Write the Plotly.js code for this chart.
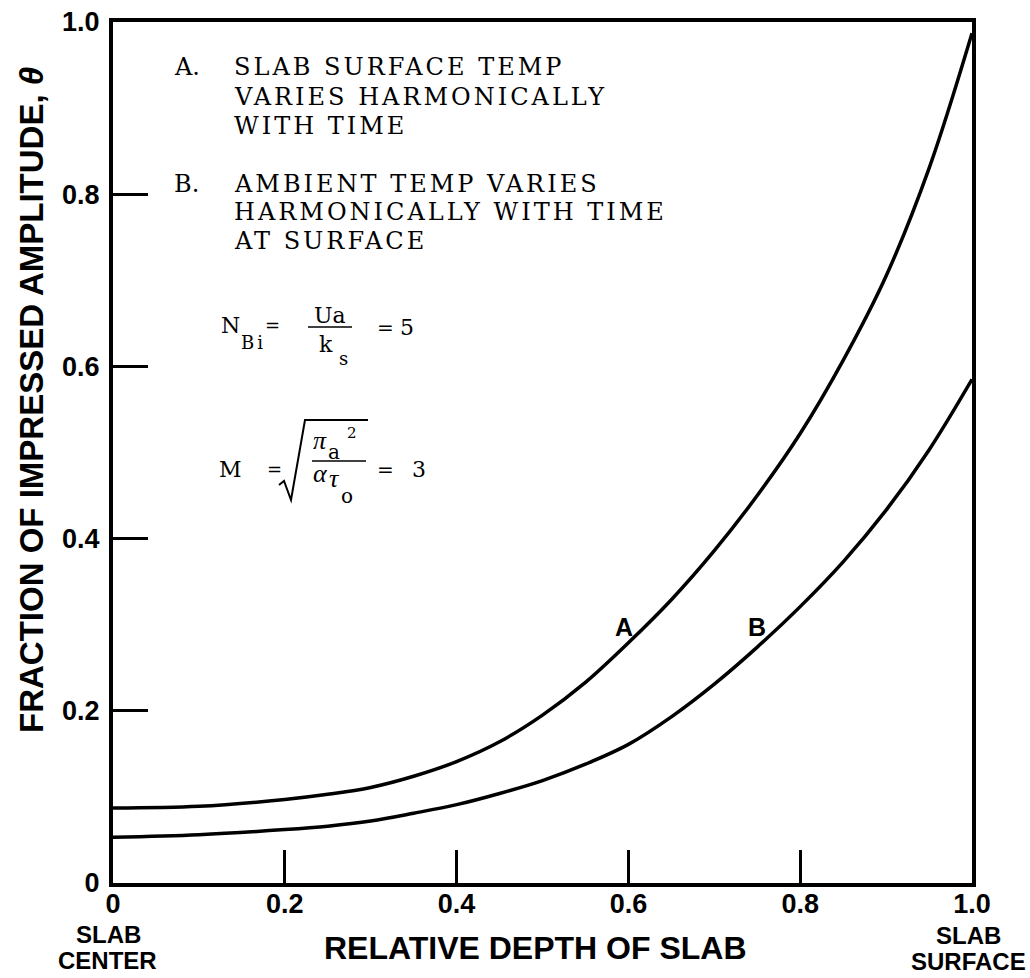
<!DOCTYPE html>
<html>
<head>
<meta charset="utf-8">
<script src="https://cdn.plot.ly/plotly-3.0.1.min.js"></script>
<style>html,body{margin:0;padding:0;background:#fff;}</style>
</head>
<body>
<div id="chart" style="width:1030px;height:978px;"></div>
<script>
// ---- data ----
const depthA = [0, 0.1, 0.2, 0.25, 0.3, 0.35, 0.4, 0.45, 0.5, 0.55, 0.6, 0.65, 0.7, 0.75, 0.8, 0.85, 0.9, 0.95, 1.0];
const ampA   = [0.087, 0.089, 0.097, 0.103, 0.111, 0.124, 0.141, 0.164, 0.195, 0.233, 0.279, 0.329, 0.386, 0.450, 0.522, 0.607, 0.705, 0.830, 0.987];
const depthB = [0, 0.1, 0.2, 0.25, 0.3, 0.35, 0.4, 0.45, 0.5, 0.55, 0.6, 0.65, 0.7, 0.75, 0.8, 0.85, 0.9, 0.95, 1.0];
const ampB   = [0.053, 0.056, 0.062, 0.066, 0.072, 0.081, 0.091, 0.104, 0.119, 0.138, 0.161, 0.193, 0.231, 0.274, 0.321, 0.373, 0.433, 0.503, 0.585];
const xTickVals = [0, 0.2, 0.4, 0.6, 0.8, 1.0];
const xTickText = ['0', '0.2', '0.4', '0.6', '0.8', '1.0'];
const yTickVals = [0, 0.2, 0.4, 0.6, 0.8, 1.0];
const yTickText = ['0', '0.2', '0.4', '0.6', '0.8', '1.0'];
const curveLabels = ['A', 'B'];
const noteMarks = ['A.', 'B.'];
const noteLines = [
  'SLAB SURFACE TEMP',
  'VARIES HARMONICALLY',
  'WITH TIME',
  'AMBIENT TEMP VARIES',
  'HARMONICALLY WITH TIME',
  'AT SURFACE'
];

// ---- layout geometry (pixels) ----
const W = 1030, H = 978;
const L = 113, R = 972, T = 22, B = 883;
const px = x => (x - L) / (R - L);
const py = y => (B - y) / (B - T);

const sans = 'Liberation Sans, Arial, sans-serif';
const serif = 'DejaVu Serif, serif';
const tserif = 'Liberation Serif, serif';

const ann = [];
const spaced = [];
function txt(text, x, y, font, opts) {
  ann.push(Object.assign({
    text: text, x: px(x), y: py(y), xref: 'paper', yref: 'paper',
    showarrow: false, xanchor: 'center', yanchor: 'middle',
    font: Object.assign({color: '#000'}, font)
  }, opts || {}));
  return ann.length - 1;
}
const bold = s => ({family: sans, size: s, weight: 'bold'});
const ser = s => ({family: serif, size: s});
const ital = s => ({family: tserif, size: s, style: 'italic'});

// axis titles & end labels
txt('RELATIVE DEPTH OF SLAB', 535, 948, bold(32));
txt('FRACTION OF IMPRESSED AMPLITUDE, <i>θ</i>', 32, 400, bold(33), {textangle: -90});
txt('SLAB', 108, 934, bold(24));
txt('CENTER', 107, 961, bold(24));
txt('SLAB', 968, 935, bold(24));
txt('SURFACE', 968, 962, bold(24));

// curve labels
txt(curveLabels[0], 624, 627, bold(25));
txt(curveLabels[1], 757, 627, bold(25));

// notes
const lineY = [67, 97, 126, 184, 212, 241];
txt(noteMarks[0], 172, lineY[0], ser(24), {xanchor: 'left', align: 'left'});
txt(noteMarks[1], 172, lineY[3], ser(24), {xanchor: 'left', align: 'left'});
noteLines.forEach((s, i) => {
  spaced.push(txt(s, 232, lineY[i], ser(24), {xanchor: 'left', align: 'left'}));
});

// formula 1: N_Bi = Ua / k_s = 5
txt('N', 230, 325, ser(22));
spaced.push(txt('Bi', 239, 342, ser(18), {xanchor: 'left', align: 'left'}));
txt('=', 272, 325, ser(18));
txt('Ua', 330, 315, ser(22));
txt('k', 326, 344, ser(22));
txt('s', 343, 358, ser(18));
txt('=', 385, 328, ser(20));
txt('5', 407, 327, ser(22));

// formula 2: M = sqrt(pi_a^2 / (alpha tau_o)) = 3
txt('M', 230, 470, ser(22));
txt('=', 274, 470, ser(18));
txt('π', 320, 440, ital(26));
txt('a', 334, 452, ser(20));
txt('2', 352, 433, ser(15));
txt('α', 320, 473, ital(26));
txt('τ', 334, 478, ital(26));
txt('o', 347, 496, ser(20));
txt('=', 385, 470, ser(20));
txt('3', 419, 470, ser(22));

const shapes = [
  {type: 'line', xref: 'paper', yref: 'paper', x0: px(308), x1: px(352), y0: py(327), y1: py(327), line: {color: '#000', width: 1.5}},
  {type: 'line', xref: 'paper', yref: 'paper', x0: px(312), x1: px(366), y0: py(461), y1: py(461), line: {color: '#000', width: 1.5}},
  {type: 'path', xref: 'paper', yref: 'paper',
   path: 'M ' + px(279) + ' ' + py(485) + ' L ' + px(284) + ' ' + py(481) + ' L ' + px(291) + ' ' + py(500) +
         ' L ' + px(305) + ' ' + py(420) + ' L ' + px(368) + ' ' + py(420),
   line: {color: '#000', width: 2}}
];

const traces = [
  {x: depthA, y: ampA, mode: 'lines', name: 'A', line: {color: '#000', width: 3.5, shape: 'spline', smoothing: 1}, hoverinfo: 'skip'},
  {x: depthB, y: ampB, mode: 'lines', name: 'B', line: {color: '#000', width: 3.5, shape: 'spline', smoothing: 1}, hoverinfo: 'skip'}
];

const tickFont = {family: sans, size: 27, color: '#000', weight: 'bold'};
const layout = {
  width: W, height: H,
  margin: {l: L, r: W - R, t: T, b: H - B, pad: 0},
  paper_bgcolor: '#fff', plot_bgcolor: '#fff',
  showlegend: false,
  xaxis: {
    range: [0, 1], tickvals: xTickVals, ticktext: xTickText,
    ticks: 'inside', ticklen: 33, tickwidth: 3, tickcolor: '#000',
    showline: true, linewidth: 4, linecolor: '#000', mirror: true,
    showgrid: false, zeroline: false, tickfont: tickFont, ticklabelstandoff: -6,
    title: {text: ''}
  },
  yaxis: {
    range: [0, 1], tickvals: yTickVals, ticktext: yTickText,
    ticks: 'inside', ticklen: 35, tickwidth: 3, tickcolor: '#000',
    showline: true, linewidth: 4, linecolor: '#000', mirror: true,
    showgrid: false, zeroline: false, tickfont: tickFont, ticklabelstandoff: 4,
    title: {text: ''}
  },
  annotations: ann,
  shapes: shapes
};

Plotly.newPlot('chart', traces, layout, {displayModeBar: false, staticPlot: true}).then(() => {
  document.querySelectorAll('#chart .annotation').forEach(g => {
    const i = +g.getAttribute('data-index');
    if (spaced.indexOf(i) >= 0) {
      g.querySelectorAll('text').forEach(t => { t.style.letterSpacing = '3px'; });
    }
  });
});
</script>
</body>
</html>
